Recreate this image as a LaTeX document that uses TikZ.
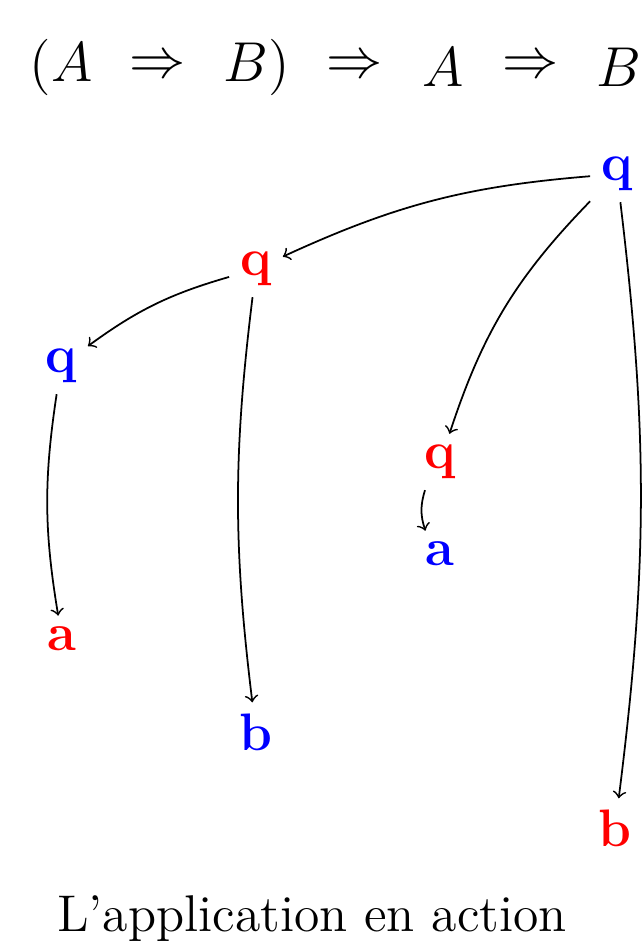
\RequirePackage{fix-cm}
\documentclass[tikz,border=0pt]{standalone}
\begin{document}
\begin{tikzpicture}[font=\fontsize{16}{19}\selectfont,
	omove/.style={text=blue, font=\fontsize{15}{18}\selectfont\bfseries, inner sep=3pt},
	pmove/.style={text=red, font=\fontsize{15}{18}\selectfont\bfseries, inner sep=3pt},
	jump/.style={->, line width=0.5pt}]
	\useasboundingbox (0,0) rectangle (6.44,9.52);
	% le type
	\node (tA1) at (0.61,8.85) {$(A$};
	\node (ti1) at (1.58,8.85) {$\Rightarrow$};
	\node (tB1) at (2.57,8.85) {$B)$};
	\node (ti2) at (3.55,8.85) {$\Rightarrow$};
	\node (tA2) at (4.43,8.85) {$A$};
	\node (ti3) at (5.31,8.85) {$\Rightarrow$};
	\node (tB2) at (6.19,8.85) {$B$};
	% les coups
	\node[omove] (q1) at (6.17,7.78) {q};
	\node[pmove] (q2) at (2.56,6.83) {q};
	\node[omove] (q3) at (0.61,5.86) {q};
	\node[pmove] (q4) at (4.40,4.90) {q};
	\node[omove] (a1) at (4.40,3.98) {a};
	\node[pmove] (a2) at (0.62,3.13) {a};
	\node[omove] (b1) at (2.56,2.20) {b};
	\node[pmove] (b2) at (6.15,1.24) {b};
	% les pointeurs
	\draw[jump] (q1) to[bend right=10] (q2);
	\draw[jump] (q2) to[bend right=10] (q3);
	\draw[jump] (q3) to[bend right=9] (a2);
	\draw[jump] (q2) to[bend right=7] (b1);
	\draw[jump] (q1) to[bend right=13] (q4);
	\draw[jump] (q1) to[bend left=7] (b2);
	\draw[jump] (q4.242) to[bend right=18] (a1.122);
	\node (cap) at (3.12,0.33) {\fontsize{14.7}{17}\selectfont L'application en action};
\end{tikzpicture}
\end{document}
